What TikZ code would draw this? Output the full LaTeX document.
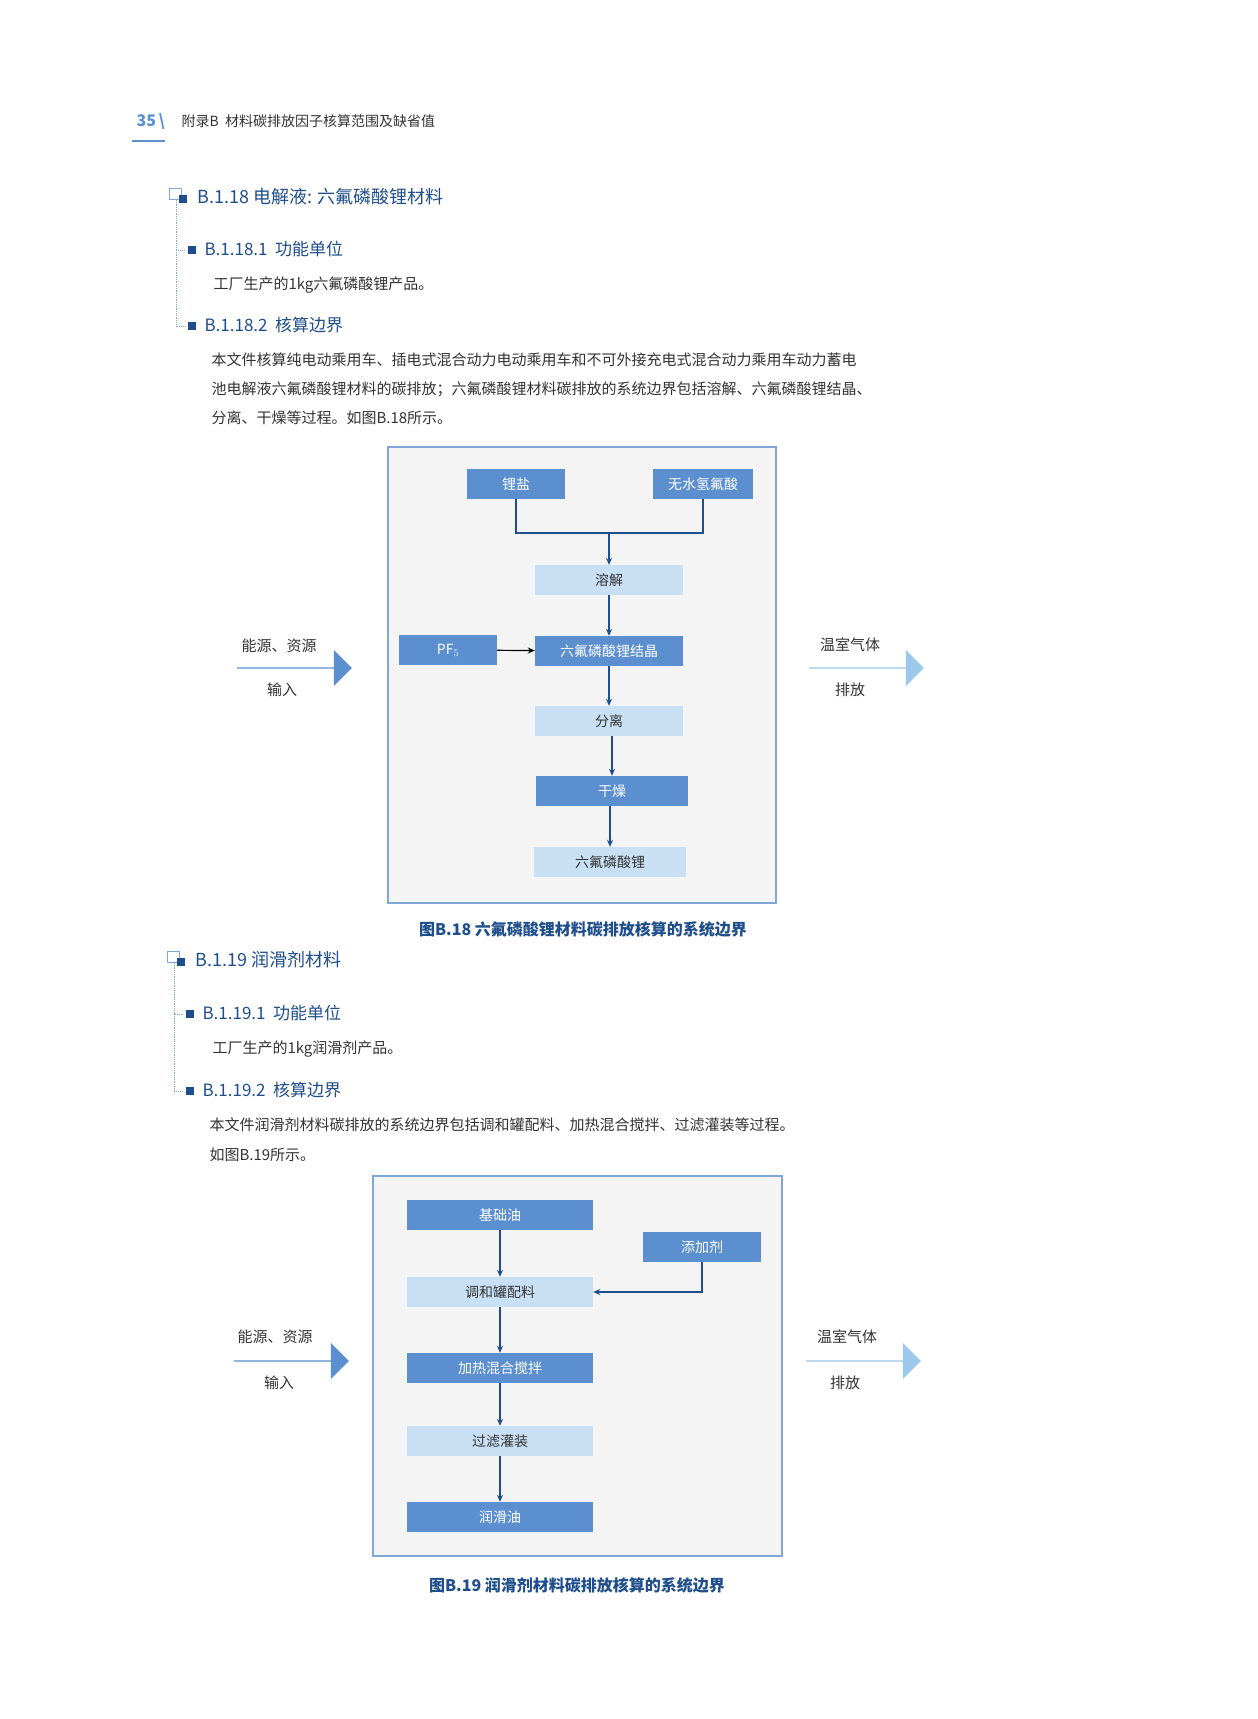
\documentclass[tikz,border=0pt]{standalone}
\usepackage{fontspec}
\setmainfont{Noto Sans CJK SC}
\usetikzlibrary{arrows.meta,shapes.arrows}
\definecolor{dblue}{HTML}{5B8FCF}
\definecolor{lblue}{HTML}{C9E0F4}
\definecolor{navy}{HTML}{1F4E8C}
\definecolor{frame}{HTML}{7FA8D8}
\definecolor{bg}{HTML}{F4F4F4}
\definecolor{txt}{HTML}{333333}
\definecolor{larrow}{HTML}{9CC8EC}
\tikzset{
 dbox/.style={fill=dblue,text=white,minimum height=30pt,inner sep=0pt,font=\fontsize{14}{14}\selectfont},
 lbox/.style={fill=lblue,text=txt,minimum height=30pt,inner sep=0pt,font=\fontsize{14}{14}\selectfont},
 conn/.style={draw=navy,line width=1.2pt,-{Stealth[length=7pt,width=6pt]}},
 plain/.style={draw=navy,line width=1.2pt},
 bigarrow/.style={single arrow,minimum height=115pt,minimum width=36pt,single arrow head extend=6pt,inner sep=0pt,single arrow tip angle=90},
 lab/.style={text=txt,font=\fontsize{15}{15}\selectfont},
 head/.style={text=navy,anchor=west,font=\fontsize{18}{18}\selectfont},
 sub/.style={text=navy,anchor=west,font=\fontsize{17}{17}\selectfont},
 body/.style={text=txt,anchor=west,font=\fontsize{15}{15}\selectfont},
 figcap/.style={text=navy,font=\bfseries\fontsize{16}{16}\selectfont},
 sq/.style={fill=navy,minimum size=8pt,inner sep=0pt},
 tree/.style={draw=frame,densely dotted,line width=0.8pt}
}
\begin{document}
\begin{tikzpicture}[x=1pt,y=-1pt]
\useasboundingbox (0,0) rectangle (1258,1719);
\fill[white] (0,0) rectangle (1258,1719);
% header
\node[anchor=west,text=dblue,font=\bfseries\fontsize{16}{16}\selectfont] (pg) at (133,121) {35\,\textbackslash};
\draw[dblue,line width=2.5pt] (132,141) -- (165,141);
\node[anchor=west,text=txt,font=\fontsize{14}{14}\selectfont] (ht) at (178,121) {附录B\ \ 材料碳排放因子核算范围及缺省值};
% B.1.18
\draw[frame,line width=0.8pt] (169,188) rectangle (181,199);
\node[sq] (s0) at (183,199) {};
\node[head] (h18) at (194,197) {B.1.18 电解液: 六氟磷酸锂材料};
\draw[tree] (176,200) |- (185,250);
\draw[tree] (176,250) |- (185,326);
\node[sq] (s1) at (192,250) {};
\node[sub] (h181) at (201,249) {B.1.18.1\ \ 功能单位};
\node[body] (t181) at (210,285) {工厂生产的1kg六氟磷酸锂产品。};
\node[sq] (s2) at (192,326) {};
\node[sub] (h182) at (201,325) {B.1.18.2\ \ 核算边界};
\node[body] (t182a) at (208,360) {本文件核算纯电动乘用车、插电式混合动力电动乘用车和不可外接充电式混合动力乘用车动力蓄电};
\node[body] (t182b) at (208,389) {池电解液六氟磷酸锂材料的碳排放；六氟磷酸锂材料碳排放的系统边界包括溶解、六氟磷酸锂结晶、};
\node[body] (t182c) at (208,418) {分离、干燥等过程。如图B.18所示。};
% Figure B.18
\draw[frame,fill=bg,line width=1.5pt] (388,447) rectangle (776,903);
\node[dbox,minimum width=98pt] (li) at (516,484) {锂盐};
\node[dbox,minimum width=100pt] (hf) at (703,484) {无水氢氟酸};
\node[lbox,minimum width=148pt] (rj) at (609,580) {溶解};
\node[dbox,minimum width=98pt] (pf) at (448,650) {PF$_5$};
\node[dbox,minimum width=148pt] (jj) at (609,651) {六氟磷酸锂结晶};
\node[lbox,minimum width=148pt] (fl) at (609,721) {分离};
\node[dbox,minimum width=152pt] (gz) at (612,791) {干燥};
\node[lbox,minimum width=152pt] (lp) at (610,862) {六氟磷酸锂};
\coordinate (m1) at (609,533);
\draw[plain] (li.south) |- (m1) -| (hf.south);
\draw[conn] (m1) -- (rj.north);
\draw[conn] (rj) -- (jj);
\draw[conn,draw=black] (pf) -- (jj);
\draw[conn] (jj) -- (fl);
\draw[conn] (fl.south-|gz.north) -- (gz.north);
\draw[conn] (gz.south-|lp.north) -- (lp.north);
\node[bigarrow,fill=dblue] (ina) at (294,668) {};
\node[lab] (inl1) at (279,646) {能源、资源};
\node[lab] (inl2) at (282,690) {输入};
\node[bigarrow,fill=larrow] (outa) at (866,668) {};
\node[lab] (outl1) at (850,645) {温室气体};
\node[lab] (outl2) at (850,690) {排放};
\node[figcap] (c18) at (583,929) {图B.18 六氟磷酸锂材料碳排放核算的系统边界};
% B.1.19
\draw[frame,line width=0.8pt] (167,951) rectangle (179,962);
\node[sq] (s3) at (181,962) {};
\node[head] (h19) at (192,960) {B.1.19 润滑剂材料};
\draw[tree] (174,963) |- (183,1014);
\draw[tree] (174,1014) |- (183,1091);
\node[sq] (s4) at (190,1014) {};
\node[sub] (h191) at (199,1013) {B.1.19.1\ \ 功能单位};
\node[body] (t191) at (209,1049) {工厂生产的1kg润滑剂产品。};
\node[sq] (s5) at (190,1091) {};
\node[sub] (h192) at (199,1090) {B.1.19.2\ \ 核算边界};
\node[body] (t192a) at (206,1125) {本文件润滑剂材料碳排放的系统边界包括调和罐配料、加热混合搅拌、过滤灌装等过程。};
\node[body] (t192b) at (206,1155) {如图B.19所示。};
% Figure B.19
\draw[frame,fill=bg,line width=1.5pt] (373,1176) rectangle (782,1556);
\node[dbox,minimum width=186pt] (jc) at (500,1215) {基础油};
\node[dbox,minimum width=118pt] (tj) at (702,1247) {添加剂};
\node[lbox,minimum width=186pt] (th) at (500,1292) {调和罐配料};
\node[dbox,minimum width=186pt] (jr) at (500,1368) {加热混合搅拌};
\node[lbox,minimum width=186pt] (gl) at (500,1441) {过滤灌装};
\node[dbox,minimum width=186pt] (rh) at (500,1517) {润滑油};
\draw[conn] (jc) -- (th);
\draw[conn] (tj.south) |- (th.east);
\draw[conn] (th) -- (jr);
\draw[conn] (jr) -- (gl);
\draw[conn] (gl) -- (rh);
\node[bigarrow,fill=dblue] (inb) at (291,1361) {};
\node[lab] (inm1) at (275,1337) {能源、资源};
\node[lab] (inm2) at (279,1383) {输入};
\node[bigarrow,fill=larrow] (outb) at (863,1361) {};
\node[lab] (outm1) at (847,1337) {温室气体};
\node[lab] (outm2) at (845,1383) {排放};
\node[figcap] (c19) at (577,1585) {图B.19 润滑剂材料碳排放核算的系统边界};
\end{tikzpicture}
\end{document}
